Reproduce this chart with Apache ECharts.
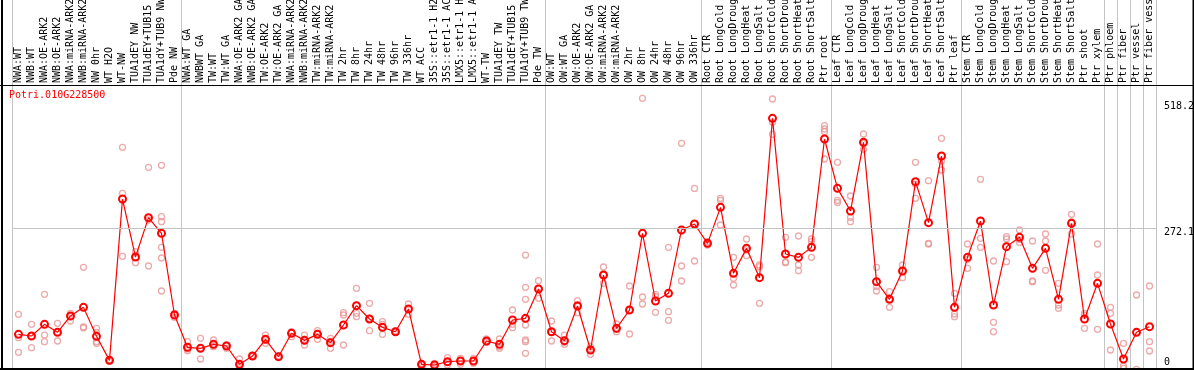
<!DOCTYPE html>
<html><head><meta charset="utf-8">
<script src="https://cdn.jsdelivr.net/npm/echarts@6/dist/echarts.min.js"></script>
<style>html,body{margin:0;padding:0;background:#fff}#c{width:1194px;height:370px}</style>
</head><body><div id="c"></div>
<script>
const geneId = 'Potri.010G228500';
const categories = [
 'NWA:WT','NWB:WT','NWA:OE-ARK2','NWB:OE-ARK2','NWA:miRNA-ARK2','NWB:miRNA-ARK2','NW 0hr','WT H2O','WT-NW','TUA1dEY NW','TUA1dEY+TUB15','TUA1dY+TUB9 NW','Pde NW',
 'NWA:WT GA','NWBWT GA','TW:WT','TW:WT GA','NWA:OE-ARK2 GA','NWB:OE-ARK2 GA','TW:OE-ARK2','TW:OE-ARK2 GA','NWA:miRNA-ARK2','NWB:miRNA-ARK2','TW:miRNA-ARK2','TW:miRNA-ARK2','TW 2hr','TW 8hr','TW 24hr','TW 48hr','TW 96hr','TW 336hr','WT ACC','35S::etr1-1 H2','35S::etr1-1 AC','LMX5::etr1-1 H','LMX5::etr1-1 A','WT-TW','TUA1dEY TW','TUA1dEY+TUB15','TUA1dY+TUB9 TW','Pde TW',
 'OW:WT','OW:WT GA','OW:OE-ARK2','OW:OE-ARK2 GA','OW:miRNA-ARK2','OW:miRNA-ARK2','OW 2hr','OW 8hr','OW 24hr','OW 48hr','OW 96hr','OW 336hr',
 'Root CTR','Root LongCold','Root LongDroug','Root LongHeat','Root LongSalt','Root ShortCold','Root ShortDrou','Root ShortHeat','Root ShortSalt','Ptr root',
 'Leaf CTR','Leaf LongCold','Leaf LongDroug','Leaf LongHeat','Leaf LongSalt','Leaf ShortCold','Leaf ShortDrou','Leaf ShortHeat','Leaf ShortSalt','Ptr leaf',
 'Stem CTR','Stem LongCold','Stem LongDroug','Stem LongHeat','Stem LongSalt','Stem ShortCold','Stem ShortDrou','Stem ShortHeat','Stem ShortSalt','Ptr shoot','Ptr xylem',
 'Ptr phloem','Ptr fiber','Ptr vessel','Ptr fiber vess'
];
const groupSizes = [13, 28, 12, 10, 10, 11, 1, 1, 1, 1];
const means = [
 68.3, 65.1, 87.5, 72.2, 103.5, 120, 64.5, 18.5, 327.6, 216.5, 291.9, 261.9, 105.4,
 43.5, 41.5, 49.2, 46, 10.9, 26.8, 58.8, 25.5, 70.3, 56.8, 68.3, 52.4, 86.2, 123.3, 97.7, 81.8, 73.4, 116.9, 10.9, 9.6, 16, 17.2, 17.2, 55.6, 49.2, 95.8, 99, 155.2,
 73.4, 56.2, 122.6, 38.3, 182, 79.8, 115, 261.9, 132.2, 146.9, 268.3, 279.7,
 242.7, 311.7, 185.2, 233.1, 176.9, 482.2, 222.3, 215.9, 235, 442.6,
 348.1, 304.7, 436.2, 169.3, 135.4, 189.7, 360.9, 282.3, 410, 120.1,
 215.9, 285.5, 124.5, 236.3, 254.2, 194.8, 233.1, 135.4, 281, 97.7, 166.1,
 88.1, 21.1, 72.2, 83
];
const replicates = [
 [106.7,62,33.9],[87.5,65,42.8],[145,67,54.3],[89.4,72,55.6],[108.6,103,93.9],[196.7,82.4,81],[79.8,72.2,54.3,51.1],[20,17,18.5],[426.7,338.5,217.8],[226.7,216,205.7],[388.3,287.4,199.3],[392.2,293.8,284.2,235,214.6,151.4],[108.6,105,100.9],
 [54.3,40,37],[60.7,42,21.1],[57.5,47,44.7],[47.9,47,41.5],[21.1,8,4],[28,26,26.5],[67,58,51.1],[27,25,24.5],[73.4,72,63.9],[67,56,47.9],[75.4,70,58.8],[60.7,55,41.5],[109.9,105.4,47.9],[156.5,108.6,102.2],[127.7,99,75.4],[92.6,87.5,68.3],[75,73,72],[126.5,116,106.7],[12.8,11,8.3],[12.8,9.6,6.4],[23.6,15,9.6],[22.4,18,10.9],[22.4,16.5,12.8],[59.4,54.3,53],[59.4,44.7,41.5],[115,87.5,81.1],[220.3,158.4,135.4,86.2,57.5,54.3,31.9],[171.2,157,137.3],
 [93.9,72,55.6],[67,53,49.2],[132.8,125,109.9],[44.7,40,30],[197.4,182,166.1],[88.1,78,73.4],[161,115,69],[520.5,139.9,126.5],[145,140.5,110.5],[235,111.8,95.2],[434.3,199.3,170.5],[348,280,208.9],
 [245.9,242,239.5],[328.9,325,277.8],[215.9,175.6,162.9],[251,230,219.1],[201.2,198,127.7],[519.3,474.6,451.6],[254.2,207,205.7],[256.8,201.2,190.3],[251,245.9,215.9],[468.2,461.8,456.7,404.3],
 [397.9,325.1,321],[333.4,292.5,284.2],[452.2,434,422.8],[196.7,160,151.4],[150.1,136,120.1],[201.2,191,176.9],[397.9,356,328.9],[362.8,242.7,241.4],[443.9,400.5,383.2],[146.9,107.3,102.2],
 [241.4,212,194.8],[365.3,252.3,235],[208.9,91.3,73.4],[255.5,251,207.6],[268.3,250,244.6],[247.2,170.5,169.3],[260.6,247.2,191],[166.1,124.5,118.2],[298.3,284,260.6],[108.6,105,79.8],[241.4,182,77.9],
 [120.1,108.6,38.3],[51.1,7.7,3.2],[143.7,72,1.3],[161,54.3,36.4]
];
const yTicks = [0, 272.1, 518.2];
const yMax = 546.1;

const boundaries = new Set();
let acc = 0;
groupSizes.forEach(s => { boundaries.add(acc); acc += s; });
const splitFn = (idx) => boundaries.has(idx);

const FONT = 'DejaVu Sans Mono';
const GREY = '#c4c4c4';
const repData = [];
replicates.forEach((arr, i) => arr.forEach(v => repData.push([i, v])));

const chart = echarts.init(document.getElementById('c'), null, {renderer: 'canvas'});
chart.setOption({
  animation: false,
  backgroundColor: '#fff',
  title: {text: geneId, left: 9, top: 90, padding: 0,
    textStyle: {color: '#ff0000', fontFamily: FONT, fontSize: 10, fontWeight: 'normal'}},
  grid: [
    {left: 12, right: 38, top: 85, bottom: 0, outerBoundsMode: 'none', containLabel: false},
    {left: 12, right: 38, top: 0, height: 85, outerBoundsMode: 'none', containLabel: false}
  ],
  xAxis: [
    {type: 'category', gridIndex: 0, data: categories, position: 'top', boundaryGap: true,
     axisLine: {show: false}, axisTick: {show: false},
     axisLabel: {interval: 0, rotate: 90, margin: 2, fontFamily: FONT, fontSize: 10, color: '#000'},
     splitLine: {show: true, interval: splitFn, lineStyle: {color: GREY, width: 1}}},
    {type: 'category', gridIndex: 1, data: categories, boundaryGap: true,
     axisLine: {show: false}, axisTick: {show: false}, axisLabel: {show: false},
     splitLine: {show: true, interval: splitFn, lineStyle: {color: GREY, width: 1}}}
  ],
  yAxis: [
    {type: 'value', gridIndex: 0, position: 'right', min: 0, max: yMax,
     axisLine: {show: false}, axisTick: {show: false}, splitLine: {show: false},
     axisLabel: {customValues: yTicks, margin: 8, fontFamily: FONT, fontSize: 10, color: '#000',
       formatter: v => '{s' + yTicks.indexOf(v) + '|' + v + '}',
       rich: {
         s0: {padding: [0, 0, 15, 0], fontFamily: FONT, fontSize: 10, color: '#000'},
         s1: {padding: [9, 0, 0, 0], fontFamily: FONT, fontSize: 10, color: '#000'},
         s2: {padding: [14, 0, 0, 0], fontFamily: FONT, fontSize: 10, color: '#000'}
       }}},
    {type: 'value', gridIndex: 1, min: 0, max: 1, show: false}
  ],
  series: [
    {type: 'scatter', xAxisIndex: 0, yAxisIndex: 0, data: repData, symbol: 'circle', symbolSize: 6,
     itemStyle: {color: 'rgba(0,0,0,0)', borderColor: '#e99595', borderWidth: 1.3}, z: 2},
    {type: 'line', xAxisIndex: 0, yAxisIndex: 0, data: means, symbol: 'circle', symbolSize: 7, showAllSymbol: true,
     lineStyle: {color: '#ff0000', width: 1.2},
     itemStyle: {color: 'rgba(255,255,255,0)', borderColor: '#ff0000', borderWidth: 2}, z: 3,
     markLine: {silent: true, symbol: ['none', 'none'], label: {show: false},
       lineStyle: {color: GREY, width: 1, type: 'solid'},
       data: [{yAxis: yTicks[1]}]}}
  ],
  graphic: [
    {type: 'line', shape: {x1: 0, y1: 85.5, x2: 1194, y2: 85.5}, style: {stroke: '#000', lineWidth: 1}, z: 100},
    {type: 'line', shape: {x1: 2, y1: 0, x2: 2, y2: 370}, style: {stroke: '#000', lineWidth: 2}, z: 100},
    {type: 'line', shape: {x1: 1193.5, y1: 0, x2: 1193.5, y2: 370}, style: {stroke: '#000', lineWidth: 2}, z: 100},
    {type: 'line', shape: {x1: 0, y1: 369, x2: 1194, y2: 369}, style: {stroke: '#000', lineWidth: 2}, z: 100}
  ]
});
</script></body></html>
